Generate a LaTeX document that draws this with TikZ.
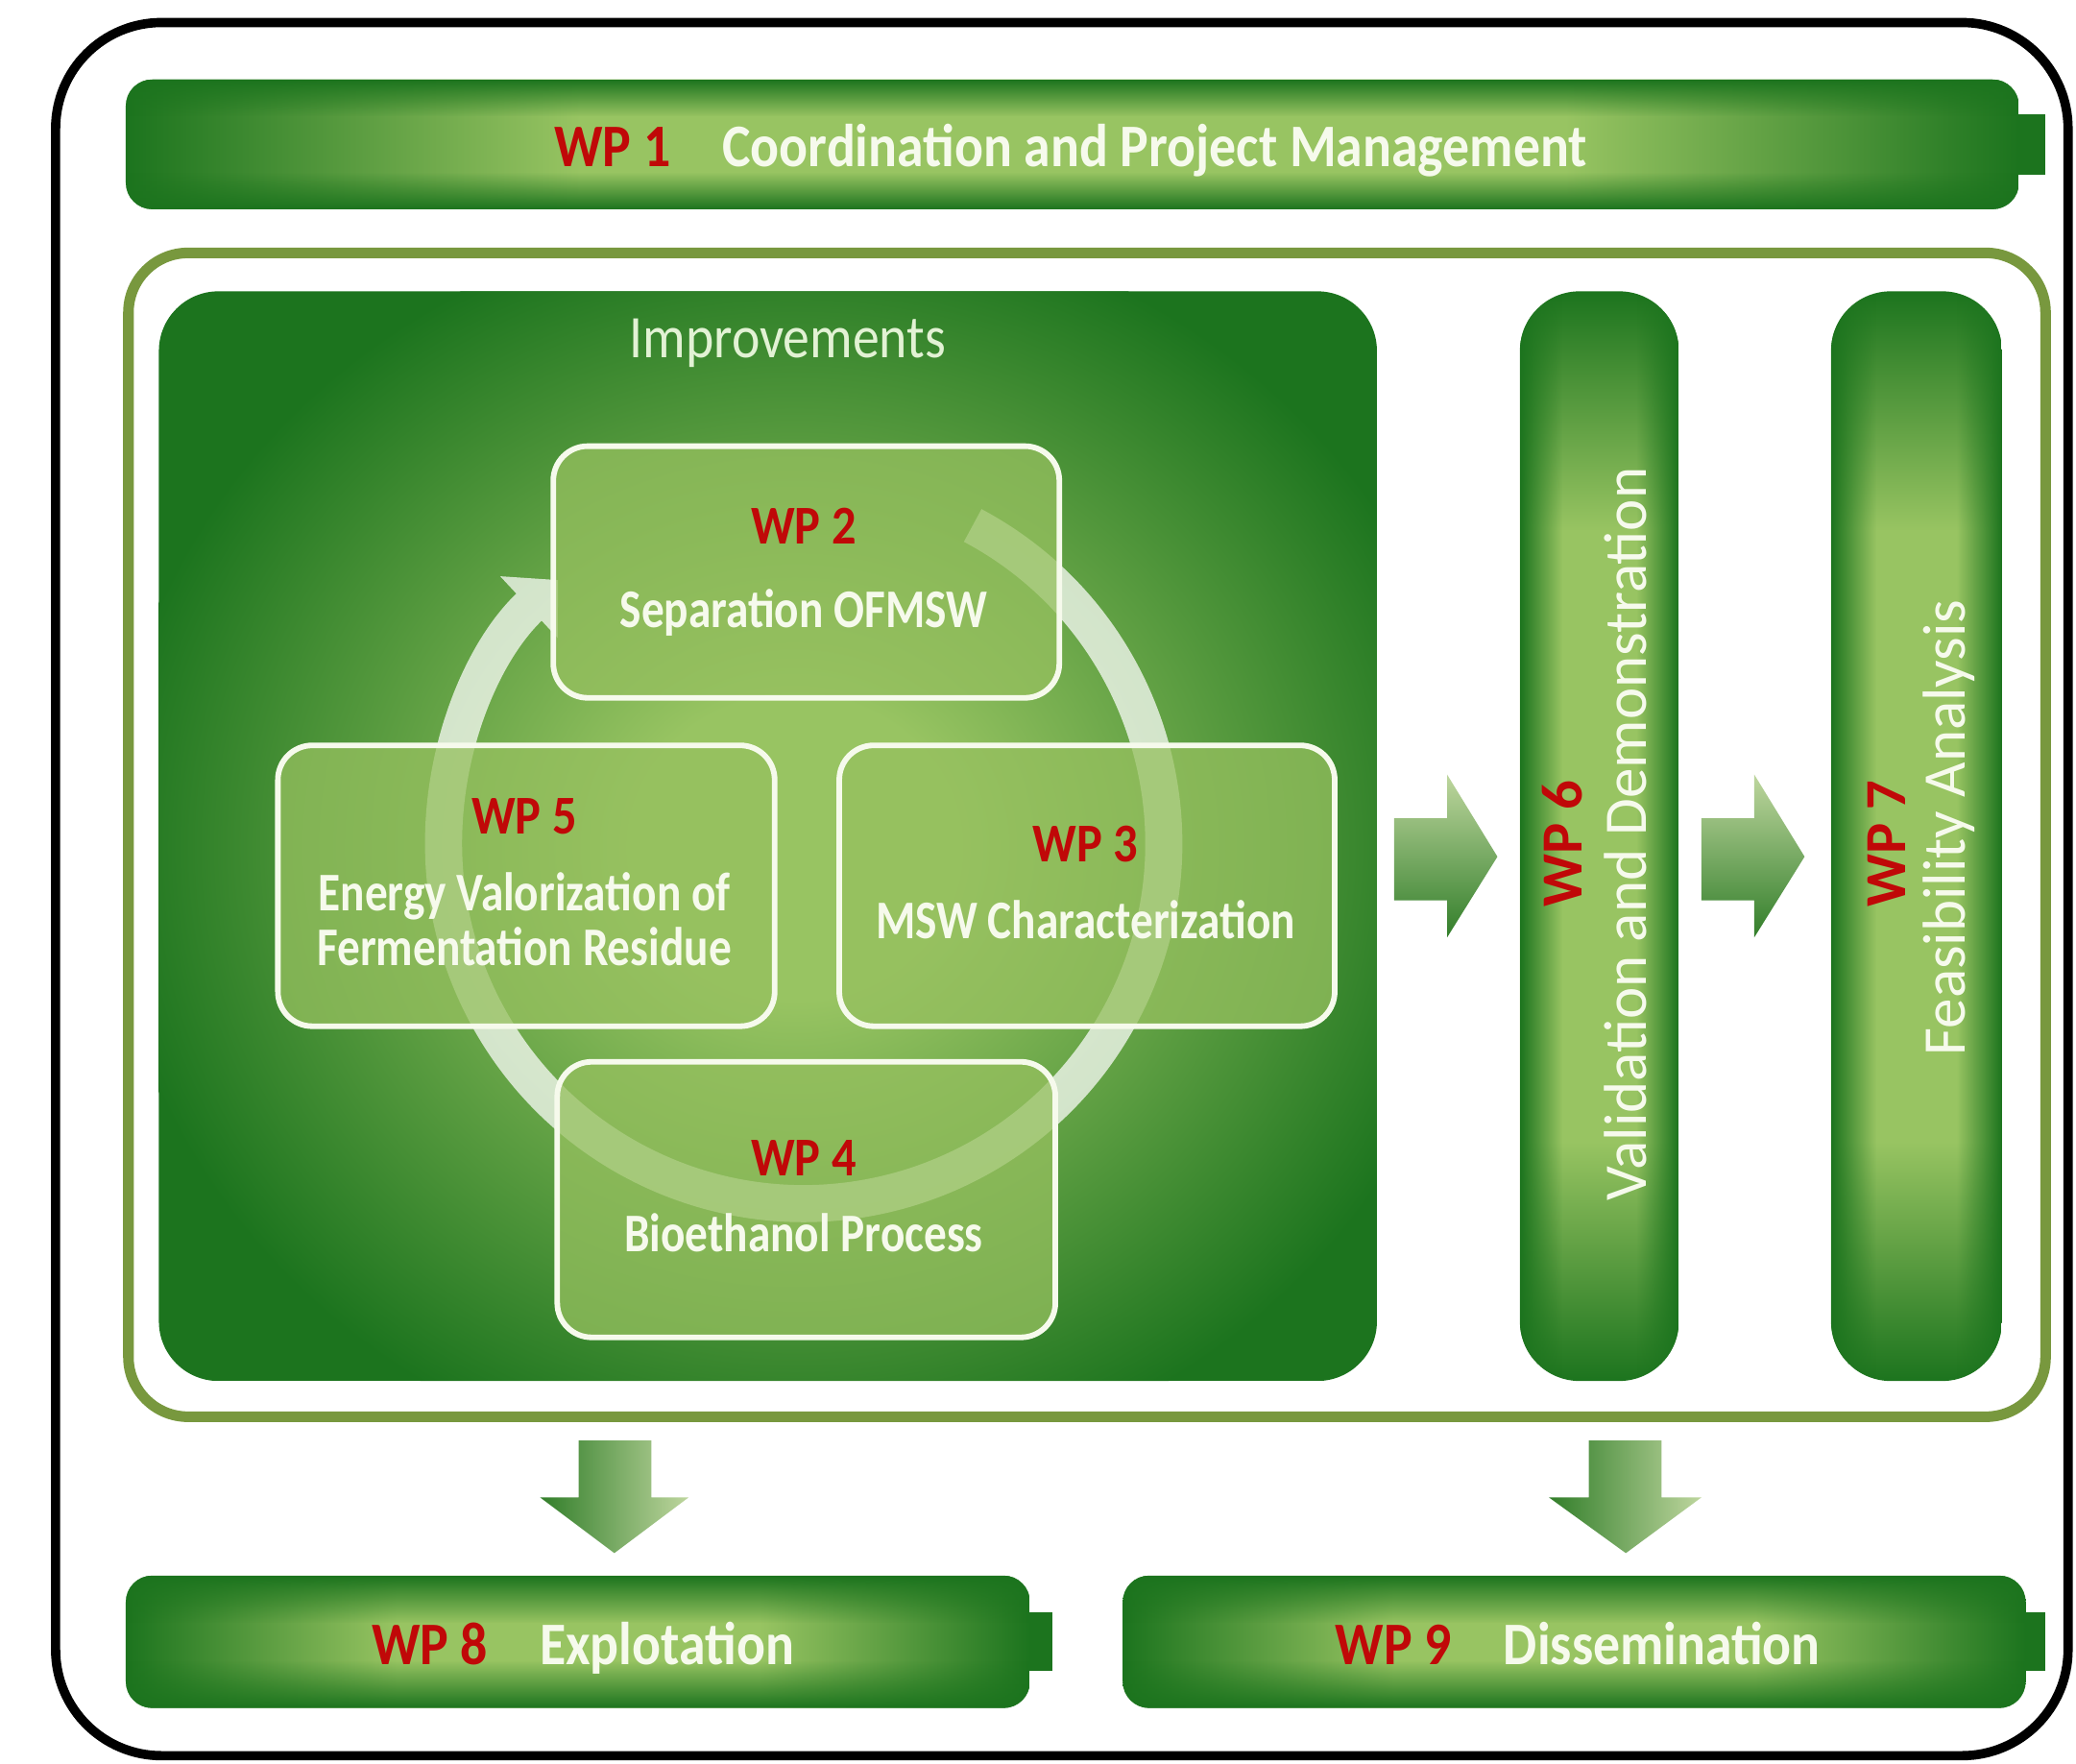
\documentclass[tikz,border=0pt]{standalone}
\usepackage{fontspec}
\usepackage{graphicx}
\setmainfont{Carlito}
\usetikzlibrary{fadings,arrows.meta}

% palette
\definecolor{dkgreen}{RGB}{28,116,30}
\definecolor{ltgreen}{RGB}{152,196,98}
\definecolor{olive}{RGB}{120,152,62}
\definecolor{wpred}{RGB}{192,8,8}
\definecolor{paletext}{RGB}{246,250,236}
\definecolor{titletext}{RGB}{226,242,212}
\definecolor{boxgreen}{RGB}{150,192,95}
\definecolor{arrowlt}{RGB}{190,214,158}
\definecolor{arrowdk}{RGB}{50,126,42}

% glow shadings for the bars and the central panel
\pgfdeclarehorizontalshading{plateauH}{100bp}{color(0bp)=(dkgreen); color(25bp)=(dkgreen); color(37bp)=(ltgreen); color(63bp)=(ltgreen); color(75bp)=(dkgreen); color(100bp)=(dkgreen)}
\pgfdeclarehorizontalshading{plateauHnarrow}{100bp}{color(0bp)=(dkgreen); color(25bp)=(dkgreen); color(40bp)=(ltgreen); color(60bp)=(ltgreen); color(75bp)=(dkgreen); color(100bp)=(dkgreen)}
\pgfdeclareverticalshading{plateauV}{100bp}{color(0bp)=(dkgreen); color(25bp)=(dkgreen); color(36bp)=(ltgreen); color(64bp)=(ltgreen); color(75bp)=(dkgreen); color(100bp)=(dkgreen)}
\pgfdeclareradialshading{glowR}{\pgfpoint{0bp}{0bp}}{color(0bp)=(ltgreen); color(6bp)=(ltgreen); color(25bp)=(dkgreen); color(50bp)=(dkgreen)}

% edge fadings: opaque on the named side
\tikzfading[name=fadeN, top color=transparent!0, bottom color=transparent!100]
\tikzfading[name=fadeS, top color=transparent!100, bottom color=transparent!0]
\tikzfading[name=fadeW, left color=transparent!0, right color=transparent!100]
\tikzfading[name=fadeE, left color=transparent!100, right color=transparent!0]

\newcommand\fsz[1]{\fontsize{#1}{#1}\selectfont}
\newcommand\tallish[1]{\scalebox{1}[1.13]{#1}}
\newcommand\taller[1]{\scalebox{1}[1.2]{#1}}

\tikzset{
  bartag/.style={text=wpred, font=\bfseries\fsz{11.5}, inner sep=0pt, anchor=base west},
  bartext/.style={text=paletext, font=\bfseries\fsz{11.5}, inner sep=0pt, anchor=base west},
  boxtag/.style={text=wpred, font=\bfseries\fsz{10.4}, inner sep=0pt, anchor=base},
  boxtext/.style={text=paletext, font=\bfseries\fsz{9.75}, inner sep=0pt, anchor=base},
  vtag/.style={text=wpred, font=\bfseries\fsz{12.5}, inner sep=0pt, rotate=90},
  vtext/.style={text=paletext, font=\fsz{13}, inner sep=0pt, rotate=90},
  cyclebox/.style={draw=paletext, line width=1.2pt, fill=boxgreen, fill opacity=0.75,
                   rounded corners=0.26cm, inner sep=0pt},
  rarrow/.style={top color=arrowlt, bottom color=arrowdk},
  darrow/.style={left color=arrowdk, right color=arrowlt},
}

\begin{document}
\begin{tikzpicture}[x=0.01cm, y=-0.01cm]
\useasboundingbox (0,0) rectangle (1568,1332);
\fill[white] (0,0) rectangle (1568,1332);

% outer frame
\draw[black, line width=0.07cm, rounded corners=0.8cm] (42,17) rectangle (1562,1326);

% WP1 bar
\fill[dkgreen] (1515,86) rectangle (1545,132);
\begin{scope}
  \clip[rounded corners=0.2cm] (95,60) rectangle (1525,158);
  \shade[shading=plateauH] (95,60) rectangle (1525,158);
  \fill[dkgreen, path fading=fadeN] (95,60) rectangle (1525,88);
  \fill[dkgreen, path fading=fadeS] (95,130) rectangle (1525,158);
\end{scope}
\node[bartag] (wp1tag) at (418,126) {\tallish{WP 1}};
\node[bartext] (wp1txt) at (545,126) {\tallish{Coordination and Project Management}};

% olive frame round the technical work packages
\draw[olive, line width=0.08cm, rounded corners=0.45cm] (97,191) rectangle (1545,1070);

% central panel
\begin{scope}
  \clip[rounded corners=0.45cm] (120,220) rectangle (1040,1043);
  \fill[dkgreen] (120,220) rectangle (1040,1043);
  \shade[shading=glowR] (600,640) ellipse [x radius=520, y radius=480];
\end{scope}
\node[text=titletext, font=\fsz{11.5}, inner sep=0pt, anchor=base] (improve) at (595,270) {\tallish{Improvements}};

% cycle arrow behind the boxes
\begin{scope}[transparency group, opacity=0.72]
  \draw[white, line width=0.28cm, -{Triangle[width=0.62cm,length=0.3cm]}]
    (607,637) ++(-62:272) arc[start angle=-62, end angle=227, radius=272];
\end{scope}

% cycle boxes
\node[cyclebox, minimum width=3.82cm, minimum height=1.90cm] (wp2box) at (609,432) {};
\node[cyclebox, minimum width=3.75cm, minimum height=2.12cm] (wp5box) at (397.5,669) {};
\node[cyclebox, minimum width=3.74cm, minimum height=2.12cm] (wp3box) at (821,669) {};
\node[cyclebox, minimum width=3.76cm, minimum height=2.08cm] (wp4box) at (609,906) {};

\node[boxtag] (wp2tag) at (607,411) {\tallish{WP 2}};
\node[boxtext] (wp2txt) at (607,474) {\taller{Separation OFMSW}};
\node[boxtag] (wp5tag) at (396,630) {\tallish{WP 5}};
\node[boxtext] (wp5txta) at (396,688) {\taller{Energy Valorization of}};
\node[boxtext] (wp5txtb) at (396,729) {\taller{Fermentation Residue}};
\node[boxtag] (wp3tag) at (820,651) {\tallish{WP 3}};
\node[boxtext] (wp3txt) at (820,709) {\taller{MSW Characterization}};
\node[boxtag] (wp4tag) at (607,888) {\tallish{WP 4}};
\node[boxtext] (wp4txt) at (607,945) {\taller{Bioethanol Process}};

% WP6 column
\begin{scope}
  \clip[rounded corners=0.45cm] (1148,220) rectangle (1268,1043);
  \shade[shading=plateauV] (1148,220) rectangle (1268,1043);
  \fill[dkgreen, path fading=fadeW] (1148,220) rectangle (1180,1043);
  \fill[dkgreen, path fading=fadeE] (1236,220) rectangle (1268,1043);
\end{scope}
\node[vtag] (wp6tag) at (1180,637) {WP 6};
\node[vtext] (wp6txt) at (1228,630) {Validation and Demonstration};

% WP7 column
\begin{scope}
  \clip[rounded corners=0.45cm] (1383,220) rectangle (1512,1043);
  \shade[shading=plateauV] (1383,220) rectangle (1512,1043);
  \fill[dkgreen, path fading=fadeW] (1383,220) rectangle (1417,1043);
  \fill[dkgreen, path fading=fadeE] (1478,220) rectangle (1512,1043);
\end{scope}
\node[vtag] (wp7tag) at (1425,637) {WP 7};
\node[vtext] (wp7txt) at (1472,625) {Feasibility Analysis};

% block arrows between the columns
\shade[rarrow] (1053,618) -- (1093,618) -- (1093,585) -- (1131,647) -- (1093,708) -- (1093,680) -- (1053,680) -- cycle;
\shade[rarrow] (1285,618) -- (1325,618) -- (1325,585) -- (1363,647) -- (1325,708) -- (1325,680) -- (1285,680) -- cycle;

% block arrows down to the bottom bars
\shade[darrow] (437,1088) -- (492,1088) -- (492,1131) -- (520,1131) -- (464,1173) -- (408,1131) -- (437,1131) -- cycle;
\shade[darrow] (1200,1088) -- (1255,1088) -- (1255,1131) -- (1285,1131) -- (1228,1173) -- (1170,1131) -- (1200,1131) -- cycle;

% WP8 bar
\fill[dkgreen] (770,1218) rectangle (795,1262);
\begin{scope}
  \clip[rounded corners=0.2cm] (95,1190) rectangle (778,1290);
  \shade[shading=plateauHnarrow] (95,1190) rectangle (778,1290);
  \fill[dkgreen, path fading=fadeN] (95,1190) rectangle (778,1226);
  \fill[dkgreen, path fading=fadeS] (95,1254) rectangle (778,1290);
\end{scope}
\node[bartag] (wp8tag) at (280,1257) {\tallish{WP 8}};
\node[bartext] (wp8txt) at (407,1257) {\tallish{Explotation}};

% WP9 bar
\fill[dkgreen] (1520,1218) rectangle (1545,1262);
\begin{scope}
  \clip[rounded corners=0.2cm] (848,1190) rectangle (1530,1290);
  \shade[shading=plateauHnarrow] (848,1190) rectangle (1530,1290);
  \fill[dkgreen, path fading=fadeN] (848,1190) rectangle (1530,1226);
  \fill[dkgreen, path fading=fadeS] (848,1254) rectangle (1530,1290);
\end{scope}
\node[bartag] (wp9tag) at (1008,1257) {\tallish{WP 9}};
\node[bartext] (wp9txt) at (1135,1257) {\tallish{Dissemination}};

\end{tikzpicture}
\end{document}
